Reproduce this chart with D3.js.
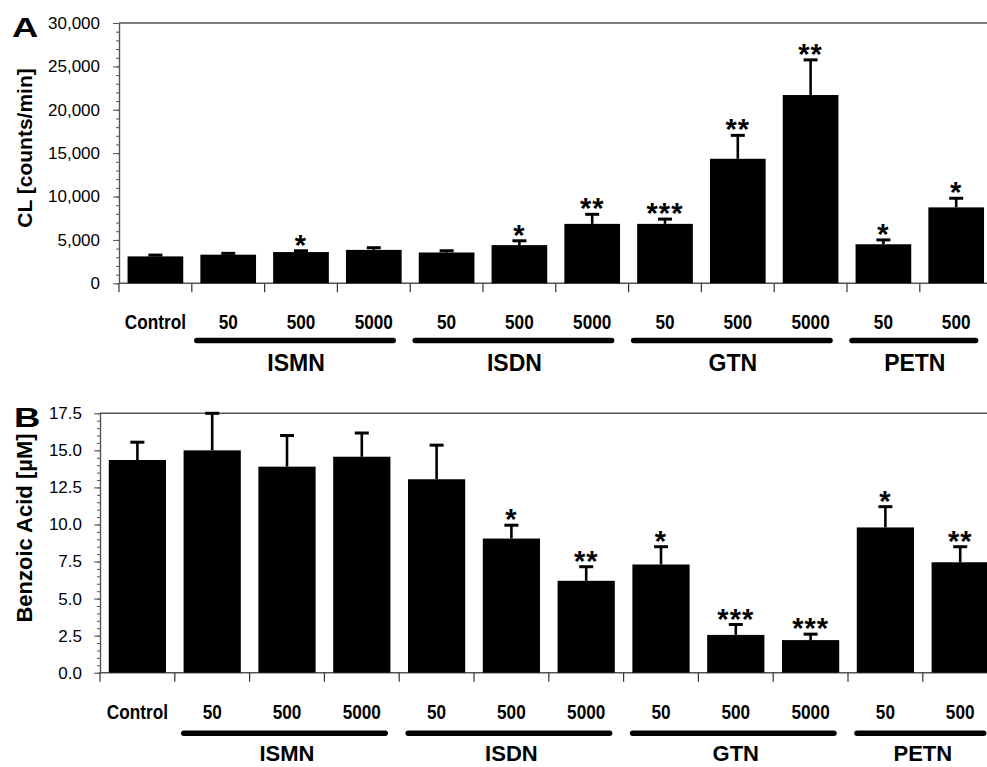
<!DOCTYPE html>
<html>
<head>
<meta charset="utf-8">
<script src="https://cdn.jsdelivr.net/npm/d3@7"></script>
<style>
  body { margin: 0; background: #fff; }
  svg { display: block; }
  text { font-family: "Liberation Sans", Arial, sans-serif; fill: #000; }
</style>
</head>
<body>
<svg id="chart" width="987" height="767"></svg>
<script>
// categories
var doses = ["Control", "50", "500", "5000", "50", "500", "5000", "50", "500", "5000", "50", "500"];
var groupNames = ["ISMN", "ISDN", "GTN", "PETN"];
var groupFirst = [1, 4, 7, 10];
var groupLast = [3, 6, 9, 11];

// panel A: chemiluminescence
var clMeans = [3100, 3300, 3600, 3850, 3550, 4400, 6850, 6850, 14350, 21700, 4500, 8750];
var clErrors = [150, 150, 150, 250, 200, 500, 1100, 550, 2700, 4050, 500, 1050];
var clStars = ["", "", "*", "", "", "*", "**", "***", "**", "**", "*", "*"];
var clTicks = [0, 5000, 10000, 15000, 20000, 25000, 30000];

// panel B: benzoic acid
var baMeans = [14.35, 15.0, 13.9, 14.57, 13.05, 9.05, 6.2, 7.3, 2.55, 2.2, 9.8, 7.45];
var baErrors = [1.2, 2.5, 2.1, 1.6, 2.3, 0.9, 0.95, 1.2, 0.7, 0.4, 1.4, 1.05];
var baStars = ["", "", "", "", "", "*", "**", "*", "***", "***", "*", "**"];
var baTicks = [0, 2.5, 5, 7.5, 10, 12.5, 15, 17.5];

var svg = d3.select("#chart");
var pad = 0.235;

function drawPanel(o) {
    var g = svg.append("g");
    var idx = d3.range(doses.length);

    var x = d3.scaleBand()
        .domain(idx)
        .range([o.left, o.right])
        .paddingInner(pad)
        .paddingOuter(pad / 2);
    var step = x.step();

    var y = d3.scaleLinear().domain([0, o.yMax]).range([o.bottom, o.top]);

    // frame lines: top border and x baseline
    g.append("line")
        .attr("x1", o.left).attr("x2", 987)
        .attr("y1", o.top).attr("y2", o.top)
        .attr("stroke", "#555").attr("stroke-width", 1.4);
    g.append("line")
        .attr("x1", o.left).attr("x2", 987)
        .attr("y1", o.bottom).attr("y2", o.bottom)
        .attr("stroke", "#555").attr("stroke-width", 1.4);

    // minor y ticks
    g.append("g")
        .attr("transform", "translate(" + o.left + ",0)")
        .call(d3.axisLeft(y).tickValues(o.minor).tickSize(3).tickFormat(""))
        .call(function (s) { s.select(".domain").remove(); })
        .selectAll("line").attr("stroke", "#555");

    // major y ticks + labels
    var ya = g.append("g")
        .attr("transform", "translate(" + o.left + ",0)")
        .call(d3.axisLeft(y).tickValues(o.ticks).tickSize(6).tickSizeOuter(0)
            .tickPadding(o.tickPad).tickFormat(o.fmt));
    ya.select(".domain").attr("stroke", "#555").attr("stroke-width", 1.4);
    ya.selectAll(".tick line").attr("stroke", "#555");
    ya.selectAll(".tick text")
        .style("font-family", "'Liberation Sans', Arial, sans-serif")
        .style("font-size", "17px")
        .attr("fill", "#000");

    // x ticks on band boundaries
    g.selectAll(".xtick")
        .data(d3.range(doses.length + 1))
        .enter()
        .append("line")
        .attr("class", "xtick")
        .attr("x1", function (i) { return o.left + i * step; })
        .attr("x2", function (i) { return o.left + i * step; })
        .attr("y1", o.bottom)
        .attr("y2", o.bottom + 9)
        .attr("stroke", "#333")
        .attr("stroke-width", 1.2);

    // bars
    g.selectAll(".bar")
        .data(idx)
        .enter()
        .append("rect")
        .attr("class", "bar")
        .attr("x", function (i) { return x(i); })
        .attr("width", x.bandwidth())
        .attr("y", function (i) { return y(o.means[i]); })
        .attr("height", function (i) { return o.bottom - y(o.means[i]); })
        .attr("fill", "#000");

    // error bars (upper only)
    var cx = function (i) { return x(i) + x.bandwidth() / 2; };
    g.selectAll(".err")
        .data(idx)
        .enter()
        .append("line")
        .attr("x1", cx).attr("x2", cx)
        .attr("y1", function (i) { return y(o.means[i]); })
        .attr("y2", function (i) { return y(o.means[i] + o.errs[i]); })
        .attr("stroke", "#000")
        .attr("stroke-width", 2.6);
    g.selectAll(".cap")
        .data(idx)
        .enter()
        .append("line")
        .attr("x1", function (i) { return cx(i) - 7; })
        .attr("x2", function (i) { return cx(i) + 7; })
        .attr("y1", function (i) { return y(o.means[i] + o.errs[i]); })
        .attr("y2", function (i) { return y(o.means[i] + o.errs[i]); })
        .attr("stroke", "#000")
        .attr("stroke-width", 3);

    // significance stars
    g.selectAll(".star")
        .data(idx.filter(function (i) { return o.stars[i]; }))
        .enter()
        .append("text")
        .attr("x", cx)
        .attr("y", function (i) { return y(o.means[i] + o.errs[i]) + 4; })
        .attr("text-anchor", "middle")
        .style("font-size", "29px")
        .style("font-weight", "bold")
        .style("letter-spacing", "1px")
        .text(function (i) { return o.stars[i]; });

    // dose labels (condensed bold)
    g.selectAll(".dose")
        .data(idx)
        .enter()
        .append("text")
        .attr("transform", function (i) {
            return "translate(" + cx(i) + "," + o.doseY + ") scale(0.86,1)";
        })
        .attr("text-anchor", "middle")
        .style("font-size", "20px")
        .style("font-weight", "bold")
        .text(function (i) { return doses[i]; });

    // group underlines + names
    groupNames.forEach(function (name, k) {
        var x0 = o.left + groupFirst[k] * step;
        var x1 = o.left + (groupLast[k] + 1) * step;
        g.append("line")
            .attr("x1", x0 + o.lineIn).attr("x2", x1 - o.lineOut)
            .attr("y1", o.lineY).attr("y2", o.lineY)
            .attr("stroke", "#000")
            .attr("stroke-width", 5.5)
            .attr("stroke-linecap", "round");
        g.append("text")
            .attr("x", (x0 + x1) / 2 + o.nameShift)
            .attr("y", o.nameY)
            .attr("text-anchor", "middle")
            .style("font-size", o.nameSize + "px")
            .style("font-weight", "bold")
            .text(name);
    });

    // y axis title
    g.append("text")
        .attr("transform", "translate(" + o.titleX + "," + o.titleY + ") rotate(-90)")
        .attr("text-anchor", "middle")
        .style("font-size", o.titleSize + "px")
        .style("font-weight", "bold")
        .text(o.title);

    // panel letter
    g.append("text")
        .attr("transform", "translate(" + o.letterX + "," + o.letterY + ") scale(1.35,1)")
        .style("font-size", "27px")
        .style("font-weight", "bold")
        .text(o.letter);
}

drawPanel({
    letter: "A", letterX: 12, letterY: 37,
    left: 119, right: 992.6, top: 23, bottom: 283.3, yMax: 30000,
    means: clMeans, errs: clErrors, stars: clStars,
    ticks: clTicks, minor: d3.range(0, 31).map(function (i) { return i * 1000; }),
    fmt: d3.format(","), tickPad: 13,
    title: "CL [counts/min]", titleX: 32, titleY: 148, titleSize: 21,
    doseY: 329, lineY: 340.5, lineIn: 5, lineOut: 17,
    nameY: 370.5, nameSize: 23, nameShift: -5
});

drawPanel({
    letter: "B", letterX: 14, letterY: 427,
    left: 100, right: 997.6, top: 413.3, bottom: 672.7, yMax: 17.5,
    means: baMeans, errs: baErrors, stars: baStars,
    ticks: baTicks, minor: d3.range(0, 36).map(function (i) { return i * 0.5; }),
    fmt: d3.format(".1f"), tickPad: 12,
    title: "Benzoic Acid [\u00b5M]", titleX: 32, titleY: 528, titleSize: 22,
    doseY: 719, lineY: 733.3, lineIn: 9, lineOut: 14,
    nameY: 761, nameSize: 22, nameShift: 0
});
</script>
</body>
</html>
